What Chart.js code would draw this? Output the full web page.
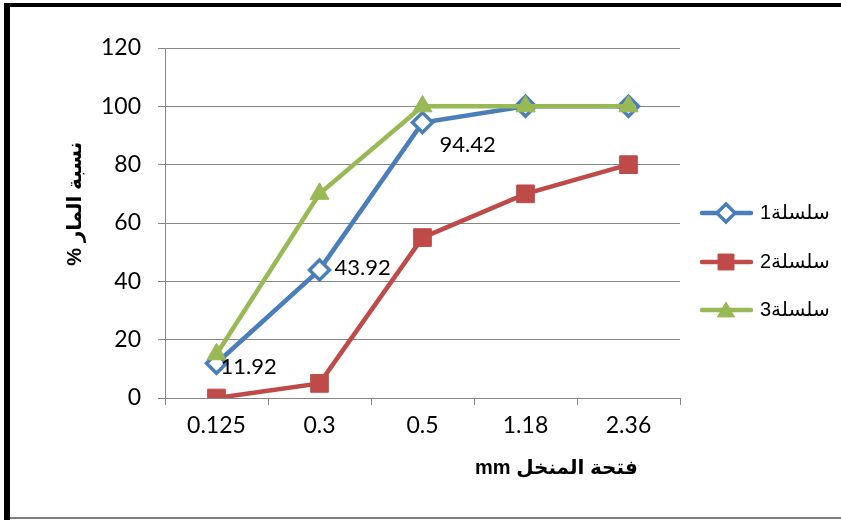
<!DOCTYPE html>
<html>
<head>
<meta charset="utf-8">
<script src="https://cdn.jsdelivr.net/npm/chart.js@4.4.0/dist/chart.umd.min.js"></script>
<style>
  html, body { margin: 0; padding: 0; background: #fff; }
  #wrap { position: relative; width: 841px; height: 520px; }
</style>
</head>
<body>
<div id="wrap"><canvas id="c" width="841" height="520"></canvas></div>
<script>
// Sieve opening sizes (mm) and passing percentages
const categories = ['0.125', '0.3', '0.5', '1.18', '2.36'];
const series1 = [11.92, 43.92, 94.42, 100, 100];
const series2 = [0, 5, 55, 70, 80];
const series3 = [15, 70, 100, 100, 100];
const seriesNames = ['سلسلة1', 'سلسلة2', 'سلسلة3'];
const yTicks = [0, 20, 40, 60, 80, 100, 120];
// points of the first series that carry a value label
const labelledPoints = [0, 1, 2];

const xTitle = 'فتحة المنخل mm';
const yTitle = 'نسبة المار %';

const BLUE = '#4A7EBB', RED = '#BE4B48', GREEN = '#98B954', GRID = '#868686';
const tickFont = { family: 'Lato, "Liberation Sans", sans-serif', size: 23 };

// value label offsets from their point (left edge, vertical middle)
const labelOffsets = [[4, 4], [15, -2], [17, 22]];

const framePlugin = {
  id: 'frame',
  beforeDraw(chart) {
    const ctx = chart.ctx;
    ctx.save();
    ctx.fillStyle = '#fff';
    ctx.fillRect(0, 0, chart.width, chart.height);
    ctx.fillStyle = '#000';
    ctx.fillRect(4, 3, 6, 517);
    ctx.fillRect(4, 3, 837, 4);
    ctx.fillStyle = '#7f7f7f';
    ctx.fillRect(10, 517, 831, 2);
    ctx.restore();
  }
};

const extrasPlugin = {
  id: 'extras',
  afterDraw(chart) {
    const ctx = chart.ctx;
    const area = chart.chartArea;
    ctx.save();

    // value labels on the first series
    const meta = chart.getDatasetMeta(0);
    ctx.font = '22px Lato, "Liberation Sans", sans-serif';
    ctx.fillStyle = '#000';
    ctx.textAlign = 'left';
    ctx.textBaseline = 'middle';
    labelledPoints.forEach((idx, k) => {
      const pt = meta.data[idx];
      const off = labelOffsets[k];
      ctx.fillText(series1[idx].toFixed(2), pt.x + off[0], pt.y + off[1]);
    });

    // axis titles
    ctx.font = 'bold 20px "Liberation Sans", "DejaVu Sans", sans-serif';
    ctx.textAlign = 'center';
    ctx.direction = 'rtl';
    ctx.fillText(xTitle, area.left + (area.right - area.left) * 0.76, 468);
    ctx.save();
    ctx.translate(75, area.top + (area.bottom - area.top) * 0.445);
    ctx.rotate(-Math.PI / 2);
    ctx.fillText(yTitle, 0, 0);
    ctx.restore();
    ctx.direction = 'ltr';

    // legend: line sample with marker, then series name
    const rows = [213, 262, 310];
    chart.data.datasets.forEach((ds, i) => {
      const y = rows[i];
      ctx.strokeStyle = ds.borderColor;
      ctx.lineWidth = ds.borderWidth;
      ctx.lineCap = 'round';
      ctx.beginPath();
      ctx.moveTo(702, y);
      ctx.lineTo(751, y);
      ctx.stroke();
      ctx.lineCap = 'butt';
      ctx.fillStyle = ds.pointBackgroundColor;
      ctx.strokeStyle = ds.pointBorderColor;
      ctx.lineWidth = ds.pointBorderWidth;
      Chart.helpers.drawPoint(ctx, {
        pointStyle: ds.pointStyle, rotation: 0,
        radius: ds.pointRadius * 0.9, borderWidth: ds.pointBorderWidth
      }, 726, y + (ds.pointStyle === 'triangle' ? 2 : 0));
      ctx.fillStyle = '#000';
      ctx.font = '20px "Liberation Sans", "DejaVu Sans", sans-serif';
      ctx.textAlign = 'left';
      ctx.textBaseline = 'middle';
      ctx.fillText(seriesNames[i], 760, y);
    });
    ctx.restore();
  }
};

new Chart(document.getElementById('c'), {
  type: 'line',
  data: {
    labels: categories,
    datasets: [
      {
        label: seriesNames[0], data: series1, order: 2,
        borderColor: BLUE, borderWidth: 4.5,
        pointStyle: 'rectRot', pointRadius: 10,
        pointBackgroundColor: '#fff', pointBorderColor: BLUE, pointBorderWidth: 3.5
      },
      {
        label: seriesNames[1], data: series2, order: 1,
        borderColor: RED, borderWidth: 4.5,
        pointStyle: 'rect', pointRadius: 12.5,
        pointBackgroundColor: RED, pointBorderColor: RED, pointBorderWidth: 1
      },
      {
        label: seriesNames[2], data: series3, order: 0,
        borderColor: GREEN, borderWidth: 4.5,
        pointStyle: 'triangle', pointRadius: 11,
        pointBackgroundColor: GREEN, pointBorderColor: GREEN, pointBorderWidth: 1
      }
    ]
  },
  options: {
    responsive: false,
    animation: false,
    layout: { padding: { top: 48, right: 161, bottom: 0, left: 0 } },
    plugins: { legend: { display: false }, tooltip: { enabled: false } },
    elements: { line: { tension: 0 } },
    scales: {
      x: {
        offset: true,
        grid: { offset: true, drawOnChartArea: false, drawTicks: true, tickLength: 7, color: GRID },
        border: { display: true, color: GRID },
        ticks: { font: tickFont, color: '#000', padding: 7, maxRotation: 0 },
        afterFit(s) { s.height = 122; }
      },
      y: {
        min: 0, max: 120,
        afterBuildTicks(s) { s.ticks = yTicks.map(v => ({ value: v })); },
        grid: { color: GRID, drawTicks: true, tickLength: 7 },
        border: { display: true, color: GRID },
        ticks: { font: tickFont, color: '#000', padding: 17 },
        afterFit(s) { s.width = 165; }
      }
    }
  },
  plugins: [framePlugin, extrasPlugin]
});
</script>
</body>
</html>
